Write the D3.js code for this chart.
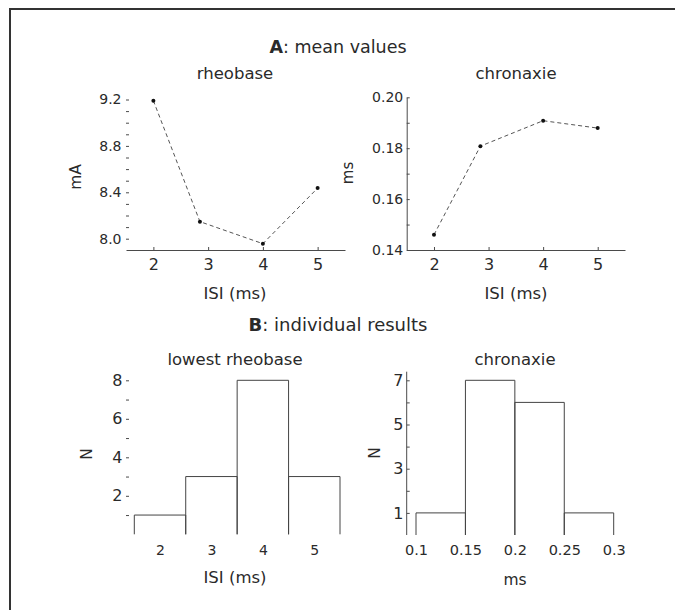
<!DOCTYPE html>
<html>
<head>
<meta charset="utf-8">
<script src="https://cdn.jsdelivr.net/npm/d3@7"></script>
<style>
  html, body { margin: 0; padding: 0; background: #fff; }
  svg { display: block; }
  text { font-family: "DejaVu Sans", sans-serif; fill: #2a2a2a; }
</style>
</head>
<body>
<svg id="chart" width="675" height="610"></svg>
<script>
// ---------- data ----------
const isiValues      = [2, 2.85, 4, 5];
const rheobaseMean   = [9.19, 8.147, 7.957, 8.436];
const chronaxieMean  = [0.146, 0.1808, 0.1908, 0.1879];

const meanXTicks       = [2, 3, 4, 5];
const rheobaseYTicks   = [8.0, 8.1, 8.2, 8.3, 8.4, 8.5, 8.6, 8.7, 8.8, 8.9, 9.0, 9.1, 9.2];
const rheobaseYLabels  = [8.0, 8.4, 8.8, 9.2];
const chronaxieYTicks  = [0.14, 0.15, 0.16, 0.17, 0.18, 0.19, 0.20];
const chronaxieYLabels = [0.14, 0.16, 0.18, 0.20];

const lowestRheoISI    = [2, 3, 4, 5];
const lowestRheoCounts = [1, 3, 8, 3];
const lowestRheoYTicks = [1, 2, 3, 4, 5, 6, 7, 8];
const lowestRheoYLabels= [2, 4, 6, 8];

const chronBinEdges    = [0.1, 0.15, 0.2, 0.25, 0.3];
const chronCounts      = [1, 7, 6, 1];
const chronXLabels     = ["0.1", "0.15", "0.2", "0.25", "0.3"];
const chronYTicks      = [1, 2, 3, 4, 5, 6, 7];
const chronYLabels     = [1, 3, 5, 7];

// ---------- setup ----------
const svg = d3.select("#chart");
const LINE = "#4a4a4a";
const fmtInt = d3.format("d");

// frame (top + left)
svg.append("path")
  .attr("d", "M10,610 V9 H675")
  .attr("fill", "none").attr("stroke", "#333").attr("stroke-width", 2);

function title(x, y, bold, rest, size) {
  const t = svg.append("text").attr("x", x).attr("y", y)
    .attr("text-anchor", "middle").attr("font-size", size);
  t.append("tspan").attr("font-weight", "bold").text(bold);
  t.append("tspan").text(rest);
}
function label(x, y, txt, size, rotate) {
  const t = svg.append("text").attr("text-anchor", "middle")
    .attr("font-size", size).text(txt);
  if (rotate) t.attr("transform", `translate(${x},${y}) rotate(-90)`);
  else t.attr("x", x).attr("y", y);
}

function styleAxis(g) {
  g.selectAll("line").attr("stroke", LINE);
  g.selectAll("path.domain").attr("stroke", LINE);
  g.selectAll("text").attr("fill", "#2a2a2a").attr("font-family", "DejaVu Sans, sans-serif");
}

function yAxis(scale, x, ticks, labels, fmt, fontSize, pad, keepDomain) {
  const g = svg.append("g").attr("transform", `translate(${x},0)`)
    .call(d3.axisLeft(scale).tickValues(ticks).tickSize(-3).tickSizeOuter(0).tickPadding(pad)
      .tickFormat(d => labels.some(l => Math.abs(l - d) < 1e-9) ? fmt(d) : ""));
  g.attr("font-size", fontSize);
  if (!keepDomain) g.select(".domain").remove();
  styleAxis(g);
  return g;
}

// ---------- A: rheobase ----------
title(338, 53, "A", ": mean values", 17.5);
label(235, 79, "rheobase", 16.5);
label(516, 79, "chronaxie", 16.5);

const xA1 = d3.scaleLinear().domain([1.5, 5.5]).range([126, 345]);
const yA1 = d3.scaleLinear().domain([7.9, 9.2]).range([250.3, 99.5]);

yAxis(yA1, 126, rheobaseYTicks, rheobaseYLabels, d3.format(".1f"), 14, 4.5, false);
{
  const g = svg.append("g").attr("transform", "translate(0,250)")
    .call(d3.axisBottom(xA1).tickValues(meanXTicks).tickSize(-3).tickSizeOuter(0).tickPadding(8.7)
      .tickFormat(fmtInt));
  g.attr("font-size", 16);
  styleAxis(g);
}
const lineA1 = d3.line().x((d, i) => xA1(isiValues[i])).y(d => yA1(d));
svg.append("path").datum(rheobaseMean).attr("d", lineA1)
  .attr("fill", "none").attr("stroke", "#555").attr("stroke-width", 1)
  .attr("stroke-dasharray", "4,3");
svg.append("g").selectAll("circle").data(rheobaseMean).join("circle")
  .attr("cx", (d, i) => xA1(isiValues[i])).attr("cy", d => yA1(d))
  .attr("r", 2).attr("fill", "#111");
label(81, 177, "mA", 15.5, true);
label(235, 299, "ISI (ms)", 16.5);

// ---------- A: chronaxie ----------
const xA2 = d3.scaleLinear().domain([1.5, 5.5]).range([406.7, 625]);
const yA2 = d3.scaleLinear().domain([0.14, 0.20]).range([250, 97.3]);

yAxis(yA2, 406.7, chronaxieYTicks, chronaxieYLabels, d3.format(".2f"), 14, 3.5, true);
{
  const g = svg.append("g").attr("transform", "translate(0,250)")
    .call(d3.axisBottom(xA2).tickValues(meanXTicks).tickSize(-3).tickSizeOuter(0).tickPadding(8.7)
      .tickFormat(fmtInt));
  g.attr("font-size", 16);
  styleAxis(g);
}
const lineA2 = d3.line().x((d, i) => xA2(isiValues[i])).y(d => yA2(d));
svg.append("path").datum(chronaxieMean).attr("d", lineA2)
  .attr("fill", "none").attr("stroke", "#555").attr("stroke-width", 1)
  .attr("stroke-dasharray", "4,3");
svg.append("g").selectAll("circle").data(chronaxieMean).join("circle")
  .attr("cx", (d, i) => xA2(isiValues[i])).attr("cy", d => yA2(d))
  .attr("r", 2).attr("fill", "#111");
label(353, 173, "ms", 15, true);
label(516, 299, "ISI (ms)", 16.5);

// ---------- B: lowest rheobase ----------
title(338, 331, "B", ": individual results", 18);
label(235, 365, "lowest rheobase", 16.5);
label(515, 365, "chronaxie", 16.5);

const xB1 = d3.scaleLinear().domain([1.5, 5.5]).range([134.3, 340]);
const yB1 = d3.scaleLinear().domain([0, 8]).range([534.3, 380.3]);

yAxis(yB1, 126, lowestRheoYTicks, lowestRheoYLabels, fmtInt, 16, 3.5, false);
{
  const g = svg.append("g").attr("transform", "translate(0,534.3)")
    .call(d3.axisBottom(xB1).tickValues(lowestRheoISI).tickSize(0).tickPadding(11)
      .tickFormat(fmtInt));
  g.attr("font-size", 14);
  g.select(".domain").remove();
  styleAxis(g);
}
svg.append("g").selectAll("path").data(lowestRheoCounts).join("path")
  .attr("d", (d, i) => {
    const x0 = xB1(lowestRheoISI[i] - 0.5), x1 = xB1(lowestRheoISI[i] + 0.5);
    return `M${x0},${yB1(0)} V${yB1(d)} H${x1} V${yB1(0)}`;
  })
  .attr("fill", "none").attr("stroke", "#444").attr("stroke-width", 1);
label(92, 454, "N", 15.5, true);
label(235, 583, "ISI (ms)", 16.5);

// ---------- B: chronaxie ----------
const xB2 = d3.scaleLinear().domain([0.1, 0.3]).range([416, 613.7]);
const yB2 = d3.scaleLinear().domain([0, 7]).range([535, 380.3]);

yAxis(yB2, 406.7, chronYTicks, chronYLabels, fmtInt, 16, 3.2, false);
svg.append("line").attr("x1", 406.7).attr("x2", 406.7).attr("y1", 371.7).attr("y2", 535)
  .attr("stroke", LINE).attr("stroke-width", 1);
{
  const g = svg.append("g").attr("transform", "translate(0,535)")
    .call(d3.axisBottom(xB2).tickValues(chronBinEdges).tickSize(0).tickPadding(10.2)
      .tickFormat((d, i) => chronXLabels[i]));
  g.attr("font-size", 14.5);
  g.select(".domain").remove();
  styleAxis(g);
}
svg.append("g").selectAll("path").data(chronCounts).join("path")
  .attr("d", (d, i) => {
    const x0 = xB2(chronBinEdges[i]), x1 = xB2(chronBinEdges[i + 1]);
    return `M${x0},${yB2(0)} V${yB2(d)} H${x1} V${yB2(0)}`;
  })
  .attr("fill", "none").attr("stroke", "#444").attr("stroke-width", 1);
label(380, 453, "N", 15.5, true);
label(515, 585, "ms", 15.5);
</script>
</body>
</html>
